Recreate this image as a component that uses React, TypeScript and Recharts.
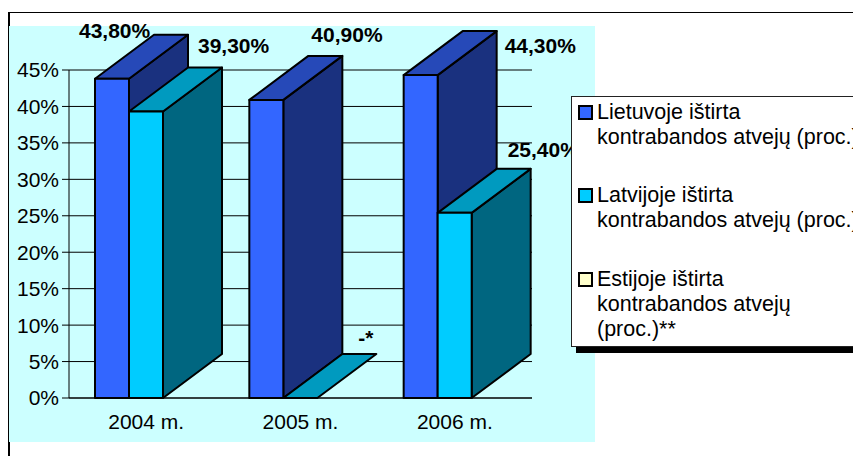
import { BarChart, Bar, XAxis, YAxis, CartesianGrid, LabelList } from "recharts";

const categories = ["2004 m.", "2005 m.", "2006 m."];
const lietuva = [43.8, 40.9, 44.3];
const latvija = [39.3, 0, 25.4];
const estija: (number | null)[] = [null, null, null];
const lietuvaLabels = ["43,80%", "40,90%", "44,30%"];
const latvijaLabels = ["39,30%", "-*", "25,40%"];
const yTicks = [0, 5, 10, 15, 20, 25, 30, 35, 40, 45];

const chartData = categories.map((name, i) => ({
  name,
  lietuva: lietuva[i],
  latvija: latvija[i],
  estija: estija[i],
}));

const FONT = "'Liberation Sans', Arial, sans-serif";
const DX = 59;
const DY = 44;

const blue = { front: "#3366FF", top: "#2649B8", side: "#1A317F" };
const cyan = { front: "#00CCFF", top: "#009ABF", side: "#006680" };

const legendItems = [
  { color: "#3366FF", lines: ["Lietuvoje ištirta", "kontrabandos atvejų (proc.)"], top: 8 },
  { color: "#00CCFF", lines: ["Latvijoje ištirta", "kontrabandos atvejų (proc.)"], top: 91 },
  { color: "#FFFFCC", lines: ["Estijoje ištirta", "kontrabandos atvejų", "(proc.)**"], top: 175 },
];

// label offsets from the bar's top left corner, per category
const lietuvaOffsets = [[-16, -41], [62, -58], [101, -22]];
const latvijaOffsets = [[69, -59], [75, -53], [70, -56]];

function Bar3D(props: any) {
  const { x, y, width, height, colors } = props;
  if (props.value == null || x == null) return null;
  const common = { stroke: "#000", strokeWidth: 2, strokeLinejoin: "round" as const };
  const r = x + width;
  const b = y + height;
  return (
    <g>
      {height > 0 && (
        <polygon
          points={`${r},${y} ${r + DX},${y - DY} ${r + DX},${b - DY} ${r},${b}`}
          fill={colors.side}
          {...common}
        />
      )}
      <polygon
        points={`${x},${y} ${x + DX},${y - DY} ${r + DX},${y - DY} ${r},${y}`}
        fill={colors.top}
        {...common}
      />
      {height > 0 && <rect x={x} y={y} width={width} height={height} fill={colors.front} {...common} />}
    </g>
  );
}

function makeLabel(texts: string[], offsets: number[][]) {
  return (props: any) => {
    const box = props.viewBox ?? props;
    const i = props.index;
    return (
      <text
        x={box.x + offsets[i][0]}
        y={box.y + offsets[i][1]}
        fontFamily={FONT}
        fontSize={21}
        fontWeight="bold"
        fill="#000"
      >
        {texts[i]}
      </text>
    );
  };
}

function LegendBox() {
  return (
    <div
      style={{
        position: "absolute",
        left: 571,
        top: 96,
        width: 320,
        height: 249,
        background: "#fff",
        border: "1px solid #222",
        boxShadow: "5px 6px 0 #000",
        fontFamily: FONT,
        fontSize: 21.5,
        lineHeight: "25px",
        color: "#000",
      }}
    >
      {legendItems.map((item) => (
        <div key={item.lines[0]} style={{ position: "absolute", left: 6, top: item.top }}>
          <div
            style={{
              position: "absolute",
              left: 0,
              top: 0,
              width: 11,
              height: 11,
              background: item.color,
              border: "2px solid #000",
            }}
          />
          <div style={{ position: "absolute", left: 19, top: -5, whiteSpace: "nowrap" }}>
            {item.lines.map((line) => (
              <div key={line}>{line}</div>
            ))}
          </div>
        </div>
      ))}
    </div>
  );
}

export default function App() {
  return (
    <div
      style={{
        position: "absolute",
        left: 0,
        top: 0,
        width: 853,
        height: 456,
        overflow: "hidden",
        background: "#fff",
      }}
    >
      <div
        style={{
          position: "absolute",
          left: 8,
          top: 12,
          width: 900,
          height: 500,
          border: "1px solid #000",
          borderLeftWidth: 2,
        }}
      />
      <div style={{ position: "absolute", left: 9, top: 26, width: 586, height: 416, background: "#CCFFFF" }} />
      <div style={{ position: "absolute", left: 0, top: 0 }}>
        <BarChart
          width={853}
          height={456}
          data={chartData}
          barSize={34}
          barGap={0}
          margin={{ top: 70, right: 321, bottom: 0, left: 0 }}
        >
          <CartesianGrid vertical={false} stroke="#000" strokeWidth={1} />
          <XAxis
            dataKey="name"
            height={58}
            axisLine={{ stroke: "#000" }}
            tickLine={false}
            tick={{ fontSize: 21, fontFamily: FONT, fill: "#000" }}
            tickMargin={10}
          />
          <YAxis
            width={69}
            domain={[0, 45]}
            ticks={yTicks}
            interval={0}
            tickFormatter={(v: number) => `${v}%`}
            axisLine={{ stroke: "#000" }}
            tickLine={{ stroke: "#000" }}
            tickSize={7}
            tickMargin={3}
            tick={{ fontSize: 21, fontFamily: FONT, fill: "#000" }}
          />
          <Bar dataKey="lietuva" isAnimationActive={false} shape={<Bar3D colors={blue} />}>
            <LabelList dataKey="lietuva" content={makeLabel(lietuvaLabels, lietuvaOffsets)} />
          </Bar>
          <Bar dataKey="latvija" isAnimationActive={false} shape={<Bar3D colors={cyan} />}>
            <LabelList dataKey="latvija" content={makeLabel(latvijaLabels, latvijaOffsets)} />
          </Bar>
          <Bar dataKey="estija" isAnimationActive={false} fill="#FFFFCC" />
        </BarChart>
      </div>
      <LegendBox />
    </div>
  );
}
